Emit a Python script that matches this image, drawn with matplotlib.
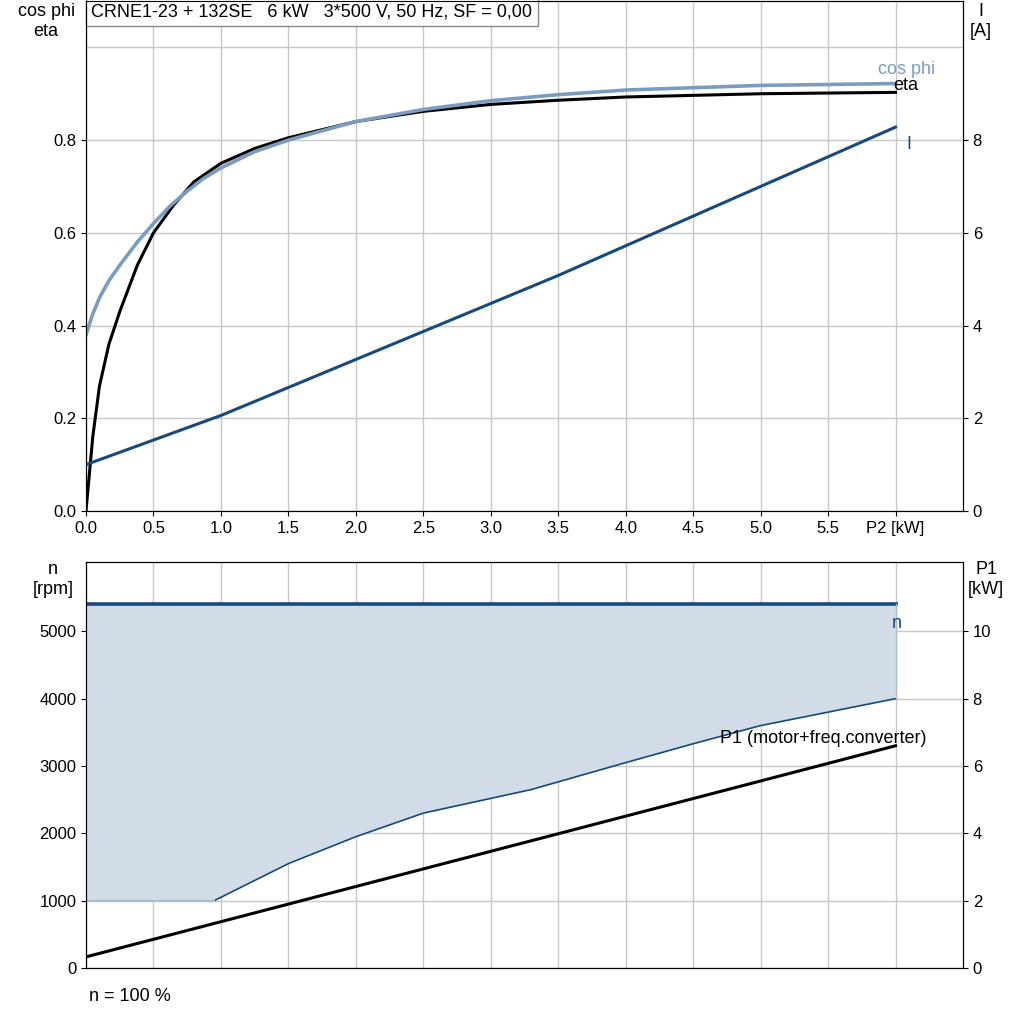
import matplotlib
matplotlib.use("Agg")
import matplotlib.pyplot as plt
import numpy as np

plt.rcParams['font.family'] = ['Liberation Sans', 'DejaVu Sans']

p2_eta = [0, 0.05, 0.1, 0.17, 0.25, 0.38, 0.5, 0.65, 0.8, 1.0, 1.25, 1.5, 2.0, 2.5, 3.0, 3.5, 4.0, 5.0, 6.0]
eta = [0, 0.16, 0.27, 0.36, 0.43, 0.53, 0.6, 0.66, 0.71, 0.75, 0.782, 0.805, 0.84, 0.862, 0.877, 0.886, 0.893, 0.9, 0.903]
p2_cos = [0, 0.05, 0.1, 0.17, 0.25, 0.38, 0.5, 0.62, 0.75, 0.87, 1.0, 1.25, 1.5, 2.0, 2.5, 3.0, 3.5, 4.0, 5.0, 6.0]
cosphi = [0.38, 0.425, 0.46, 0.497, 0.53, 0.58, 0.62, 0.657, 0.69, 0.717, 0.74, 0.775, 0.80, 0.84, 0.866, 0.885, 0.898, 0.908, 0.918, 0.922]
p2_I = [0, 1.0, 3.5, 6.0]
current = [1.0, 2.06, 5.08, 8.28]
p2_n = [0, 6.0]
speed = [5400, 5400]
p2_min = [0, 0.95, 1.5, 2.0, 2.5, 3.3, 4.0, 4.5, 5.0, 6.0]
speed_min = [1000, 1000, 1550, 1950, 2300, 2650, 3050, 3330, 3600, 4000]
p2_P1 = [0, 6.0]
P1 = [0.33, 6.6]

DARK = "#174a7c"
LIGHT = "#7b9cc0"
GRID = "#c8c8c8"

fig = plt.figure(figsize=(10.24, 10.24), dpi=100)
ax1 = fig.add_axes([0.084, 0.501, 0.8564, 0.498])
ax1r = ax1.twinx()
ax2 = fig.add_axes([0.084, 0.0547, 0.8564, 0.3965])
ax2r = ax2.twinx()

xt = np.arange(0, 6.01, 0.5)
xl = [f"{v:.1f}" for v in xt[:-1]] + ["P2 [kW]"]
for ax in (ax1, ax2):
    ax.set_xlim(0, 6.5)
    ax.set_xticks(xt)
    ax.grid(True, color=GRID, lw=1)
    ax.set_axisbelow(True)
    ax.tick_params(labelsize=12, direction="out")
ax1.set_xticklabels(xl)
ax2.set_xticklabels([])
ax2.tick_params(axis="x", length=0)

ax1.set_ylim(0, 1.1)
ax1.set_yticks(np.arange(0, 1.01, 0.2))
ax1.set_yticklabels(["0.0", "0.2", "0.4", "0.6", "0.8", ""])
ax1.yaxis.get_major_ticks()[-1].tick1line.set_visible(False)
ax1r.set_ylim(0, 11)
ax1r.set_yticks([0, 2, 4, 6, 8])
ax1r.tick_params(labelsize=12)

ax1.plot(p2_eta, eta, color="black", lw=2.2)
ax1.plot(p2_cos, cosphi, color=LIGHT, lw=2.6)
ax1r.plot(p2_I, current, color=DARK, lw=2.2)
ax1.text(5.87, 0.935, "cos phi", color=LIGHT, fontsize=13, va="bottom")
ax1.text(5.98, 0.9, "eta", color="black", fontsize=13, va="bottom")
ax1r.text(6.08, 7.8, "I", color=DARK, fontsize=13)
ax1.text(0.04, 1.095, "CRNE1-23 + 132SE   6 kW   3*500 V, 50 Hz, SF = 0,00", fontsize=13,
         va="top", bbox=dict(facecolor="white", edgecolor="#888888", boxstyle="square,pad=0.3"))

fig.text(0.045, 0.997, "cos phi\neta", fontsize=13, ha="center", va="top")
fig.text(0.958, 0.997, "I\n[A]", fontsize=13, ha="center", va="top")

ax2.set_ylim(0, 6030)
ax2.set_yticks([0, 1000, 2000, 3000, 4000, 5000])
ax2r.set_ylim(0, 12.06)
ax2r.set_yticks([0, 2, 4, 6, 8, 10])
ax2r.tick_params(labelsize=12)

xs = np.array(p2_min)
ax2.fill_between(xs, np.interp(xs, p2_n, speed), speed_min, color="#d1dce8", lw=0)
ax2.plot(p2_n, speed, color=DARK, lw=2.6)
ax2.plot(p2_min[1:], speed_min[1:], color=DARK, lw=1.2)
ax2.plot([6.0, 6.0], [speed_min[-1], speed[-1]], color="#a9bdd3", lw=1)
ax2.plot(p2_min[:2], speed_min[:2], color="#a9bdd3", lw=1.5)
ax2r.plot(p2_P1, P1, color="black", lw=2.2)
ax2.text(5.97, 5050, "n", color=DARK, fontsize=13)
ax2r.text(4.7, 6.55, "P1 (motor+freq.converter)", fontsize=13, va="bottom")

fig.text(0.052, 0.452, "n\n[rpm]", fontsize=13, ha="center", va="top")
fig.text(0.963, 0.452, "P1\n[kW]", fontsize=13, ha="center", va="top")
fig.text(0.087, 0.027, "n = 100 %", fontsize=13, va="center")

fig.savefig("out.png", dpi=100)
